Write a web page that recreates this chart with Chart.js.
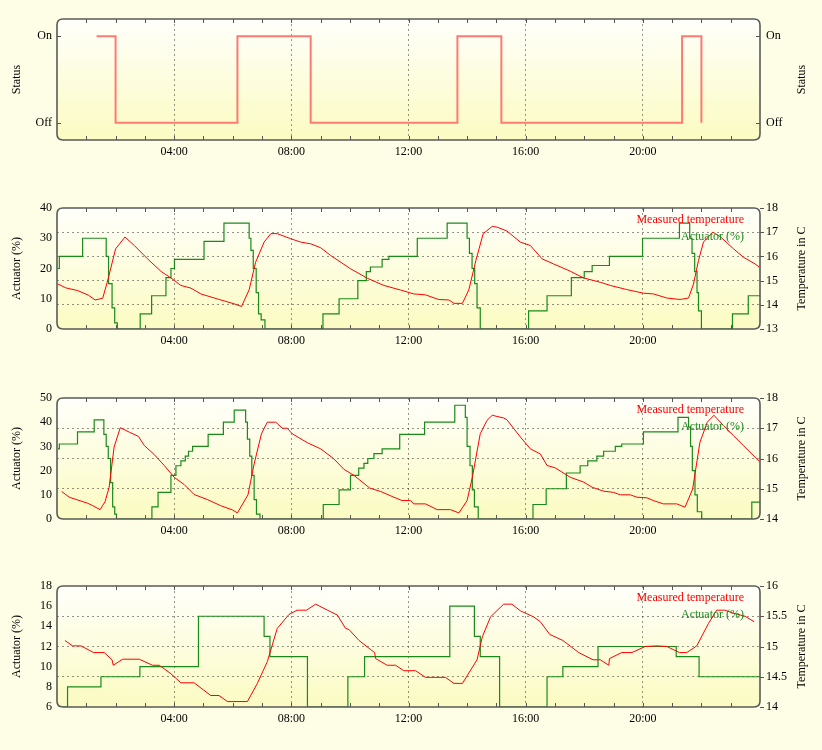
<!DOCTYPE html>
<html>
<head>
<meta charset="utf-8">
<script src="https://cdn.jsdelivr.net/npm/chart.js@4/dist/chart.umd.min.js"></script>
<style>
  body { margin: 0; background: #fefee6; }
  canvas { position: absolute; left: 0; }
</style>
</head>
<body>
<canvas id="c1" width="822" height="190" style="top:0px"></canvas>
<canvas id="c2" width="822" height="190" style="top:189px"></canvas>
<canvas id="c3" width="822" height="190" style="top:379px"></canvas>
<canvas id="c4" width="822" height="190" style="top:567px"></canvas>
<script>
// hours of the day on x
const statusHours = [1.35, 2.0, 6.16, 8.66, 13.67, 15.17, 21.34, 22.0];
const statusValues = [1, 0, 1, 0, 1, 0, 1, 0];
const statusTicks = [0, 1];
const statusLabels = ["Off", "On"];

const temp2Hours = [0.03, 0.3, 0.7, 1.07, 1.3, 1.56, 1.73, 2.0, 2.32, 2.64, 3.09, 3.55, 3.89, 4.23, 4.57, 4.91, 5.48, 6.05, 6.3, 6.56, 6.78, 7.07, 7.3, 7.52, 7.98, 8.32, 8.66, 9.0, 9.34, 10.02, 10.59, 11.16, 11.73, 12.18, 12.58, 13.03, 13.38, 13.55, 13.84, 14.06, 14.3, 14.55, 14.86, 15.02, 15.36, 15.82, 16.16, 16.56, 16.95, 17.52, 17.98, 18.55, 18.89, 19.45, 20.02, 20.36, 20.82, 21.27, 21.56, 21.73, 21.9, 22.07, 22.39, 22.64, 23.1, 23.43, 23.83, 23.98];
const temp2Values = [14.86, 14.7, 14.59, 14.4, 14.2, 14.27, 15.0, 16.31, 16.8, 16.45, 15.9, 15.38, 15.11, 14.8, 14.69, 14.45, 14.24, 14.04, 13.93, 14.62, 15.76, 16.59, 16.94, 16.94, 16.73, 16.59, 16.52, 16.36, 16.04, 15.49, 15.1, 14.8, 14.61, 14.45, 14.41, 14.22, 14.2, 14.06, 14.06, 14.62, 15.83, 16.94, 17.24, 17.21, 17.05, 16.59, 16.45, 15.9, 15.69, 15.39, 15.11, 14.93, 14.8, 14.63, 14.48, 14.45, 14.28, 14.22, 14.28, 14.86, 15.83, 16.59, 17.0, 16.82, 16.31, 15.97, 15.69, 15.55];
const act2Hours = [0.03, 0.08, 0.875, 1.68, 1.76, 1.88, 1.97, 2.06, 2.84, 3.23, 3.72, 3.89, 4.01, 5.02, 5.7, 6.56, 6.62, 6.7, 6.8, 6.88, 6.97, 7.1, 9.08, 9.63, 10.27, 10.56, 10.7, 11.1, 11.33, 12.3, 13.32, 14.0, 14.08, 14.17, 14.26, 14.34, 14.45, 16.1, 16.73, 17.56, 18.0, 18.27, 18.86, 19.99, 21.25, 21.6, 21.68, 21.77, 21.85, 21.9, 22.0, 23.06, 23.6, 24];
const act2Values = [20, 24, 30, 24, 15, 7, 2, 0, 5, 11, 17, 20, 23, 29, 35, 30, 26, 20, 12, 5, 3, 0, 5, 10, 16, 19, 20.5, 23, 24, 30, 35, 30, 25, 20, 15, 7, 0, 6, 11, 17, 19, 21, 24, 30, 35, 30, 25, 19, 12, 6, 0, 5, 11, 11];

const temp3Hours = [0.16, 0.42, 1.05, 1.22, 1.47, 1.64, 1.78, 1.95, 2.16, 2.47, 2.78, 2.98, 3.32, 3.66, 4.0, 4.34, 4.68, 5.14, 5.59, 5.99, 6.16, 6.52, 6.73, 6.98, 7.18, 7.47, 7.69, 7.86, 8.03, 8.55, 9.0, 9.45, 9.8, 10.14, 10.68, 11.05, 11.5, 11.78, 12.07, 12.18, 12.58, 12.98, 13.43, 13.72, 14.0, 14.18, 14.45, 14.68, 14.86, 15.02, 15.25, 15.36, 15.82, 16.16, 16.5, 16.73, 17.01, 17.52, 17.98, 18.27, 18.66, 19.0, 19.23, 19.57, 19.8, 20.14, 20.36, 20.7, 21.16, 21.44, 21.7, 21.95, 22.2, 22.43, 22.75, 23.09, 23.43, 23.98];
const temp3Values = [14.91, 14.72, 14.52, 14.44, 14.31, 14.57, 15.05, 16.38, 17.02, 16.87, 16.73, 16.43, 16.13, 15.77, 15.38, 15.14, 14.81, 14.64, 14.44, 14.3, 14.2, 14.8, 15.82, 16.82, 17.2, 17.2, 17.0, 17.0, 16.82, 16.52, 16.32, 15.99, 15.64, 15.44, 15.02, 14.91, 14.72, 14.61, 14.61, 14.5, 14.5, 14.31, 14.31, 14.2, 14.61, 15.38, 16.82, 17.26, 17.43, 17.39, 17.34, 17.28, 16.71, 16.32, 16.15, 15.77, 15.69, 15.38, 15.22, 15.05, 14.92, 14.88, 14.8, 14.8, 14.72, 14.7, 14.61, 14.5, 14.5, 14.39, 14.99, 16.54, 17.2, 17.43, 17.09, 16.76, 16.43, 15.9];
const act3Hours = [0.03, 0.08, 0.7, 1.27, 1.6, 1.68, 1.75, 1.83, 1.9, 1.97, 2.03, 3.24, 3.45, 3.89, 4.06, 4.23, 4.38, 4.49, 4.63, 5.16, 5.68, 6.05, 6.44, 6.5, 6.58, 6.65, 6.73, 6.81, 6.93, 9.09, 9.63, 10.02, 10.3, 10.48, 10.61, 10.82, 11.1, 11.7, 12.55, 13.58, 13.94, 14.0, 14.1, 14.18, 14.25, 14.38, 16.25, 16.7, 17.39, 17.86, 18.12, 18.43, 18.66, 19.06, 19.28, 20.02, 21.2, 21.56, 21.63, 21.69, 21.78, 21.86, 22.01, 23.72, 24];
const act3Values = [29, 31, 36, 41, 35, 30, 25, 15, 5, 2, 0, 5, 11, 18, 22, 24, 26, 28, 30, 35, 40, 45, 40, 33, 26, 18, 8, 2, 0, 6, 12, 18, 21, 23, 25, 27, 29, 35, 40, 47, 42, 30, 22, 12, 5, 0, 6, 12.5, 19, 22, 24, 26, 28, 30, 31, 36, 42, 38, 30, 20, 10, 3, 0, 7, 7];

const temp4Hours = [0.27, 0.53, 0.82, 1.25, 1.61, 1.88, 1.92, 2.24, 2.81, 3.26, 3.49, 3.89, 4.23, 4.68, 5.25, 5.53, 5.82, 6.5, 6.84, 7.18, 7.52, 7.92, 8.2, 8.52, 8.83, 9.28, 9.57, 9.85, 9.97, 10.31, 10.84, 10.88, 11.27, 11.56, 11.84, 12.24, 12.58, 13.26, 13.55, 13.84, 14.34, 14.52, 14.8, 15.25, 15.53, 15.82, 16.27, 16.5, 16.82, 17.27, 17.81, 18.3, 18.55, 18.84, 18.86, 19.28, 19.63, 20.08, 20.48, 20.82, 21.25, 21.5, 21.84, 22.24, 22.52, 22.8, 23.09, 23.49, 23.8];
const temp4Values = [15.1, 15.01, 15.01, 14.9, 14.9, 14.78, 14.69, 14.79, 14.79, 14.69, 14.69, 14.55, 14.4, 14.4, 14.19, 14.19, 14.09, 14.09, 14.39, 14.75, 15.3, 15.53, 15.6, 15.6, 15.7, 15.59, 15.52, 15.3, 15.28, 15.1, 14.9, 14.8, 14.69, 14.69, 14.6, 14.6, 14.49, 14.49, 14.39, 14.39, 14.78, 15.16, 15.49, 15.7, 15.7, 15.59, 15.49, 15.41, 15.2, 15.1, 14.9, 14.78, 14.78, 14.69, 14.8, 14.9, 14.9, 15.0, 15.01, 15.0, 14.9, 14.9, 15.01, 15.38, 15.6, 15.6, 15.55, 15.5, 15.41];
const act4Hours = [0.03, 0.36, 1.5, 2.83, 4.83, 7.07, 7.27, 8.55, 9.93, 10.5, 13.41, 14.25, 14.45, 15.11, 16.73, 17.27, 18.47, 21.14, 21.92, 24];
const act4Values = [6, 8, 9, 10, 15, 13, 11, 6, 9, 11, 16, 13, 11, 6, 9, 10, 12, 11, 9, 9];

const SERIF = "'Liberation Serif', 'DejaVu Serif', serif";
const GRID = "rgba(0, 0, 0, 0.42)";
const RED = "#ff0000";
const GREEN = "#1a8a1a";

function zip(xs, ys) {
	return xs.map((x, i) => ({ x: x, y: ys[i] }));
}

function roundRect(ctx, a, r) {
	const { left, top, right, bottom } = a;
	ctx.beginPath();
	ctx.moveTo(left + r, top);
	ctx.lineTo(right - r, top);
	ctx.quadraticCurveTo(right, top, right, top + r);
	ctx.lineTo(right, bottom - r);
	ctx.quadraticCurveTo(right, bottom, right - r, bottom);
	ctx.lineTo(left + r, bottom);
	ctx.quadraticCurveTo(left, bottom, left, bottom - r);
	ctx.lineTo(left, top + r);
	ctx.quadraticCurveTo(left, top, left + r, top);
	ctx.closePath();
}

// gnuplot-ish frame: gradient fill, rounded border, inward ticks, text legend
const framePlugin = {
	id: "frame",
	beforeDraw(chart) {
		const { ctx, chartArea: a } = chart;
		const g = ctx.createLinearGradient(0, a.top, 0, a.bottom);
		g.addColorStop(0, "#fffffb");
		g.addColorStop(1, "#fbfbc2");
		ctx.save();
		roundRect(ctx, a, 6);
		ctx.fillStyle = g;
		ctx.fill();
		ctx.restore();
	},
	afterDraw(chart, args, opts) {
		const { ctx, chartArea: a, scales } = chart;
		ctx.save();
		ctx.strokeStyle = "#555";
		ctx.lineWidth = 1;
		ctx.beginPath();
		for (const t of scales.x.ticks) {
			if (t.value <= 0 || t.value >= 24) continue;
			const px = Math.round(scales.x.getPixelForValue(t.value)) + 0.5;
			ctx.moveTo(px, a.top);
			ctx.lineTo(px, a.top + 4);
			ctx.moveTo(px, a.bottom);
			ctx.lineTo(px, a.bottom - 4);
		}
		if (opts.statusTicks) {
			for (const t of scales.y.ticks) {
				const py = Math.round(scales.y.getPixelForValue(t.value)) + 0.5;
				ctx.moveTo(a.left, py);
				ctx.lineTo(a.left + 4, py);
				ctx.moveTo(a.right, py);
				ctx.lineTo(a.right - 4, py);
			}
		} else {
			for (const t of scales.y2.ticks) {
				const py = Math.round(scales.y2.getPixelForValue(t.value)) + 0.5;
				ctx.moveTo(a.right, py);
				ctx.lineTo(a.right + 4, py);
			}
		}
		ctx.stroke();

		roundRect(ctx, a, 6);
		ctx.strokeStyle = "#5a5a5a";
		ctx.lineWidth = 1.6;
		ctx.stroke();

		ctx.font = "12px " + SERIF;
		if (opts.legend) {
			ctx.textAlign = "right";
			ctx.textBaseline = "middle";
			chart.data.datasets.forEach((ds, i) => {
				ctx.fillStyle = ds.borderColor;
				ctx.fillText(ds.label, a.right - 16, a.top + 12 + i * 16.5);
			});
		}

		ctx.fillStyle = "#000";
		ctx.textAlign = "center";
		ctx.textBaseline = "middle";
		ctx.translate(802, (a.top + a.bottom) / 2);
		ctx.rotate(-Math.PI / 2);
		ctx.fillText(opts.rightTitle, 0, 0);
		ctx.restore();
	},
};

function hourLabel(v) {
	if (v % 4 !== 0 || v <= 0 || v >= 24) return "";
	return String(v).padStart(2, "0") + ":00";
}

function xScale() {
	return {
		type: "linear",
		min: 0,
		max: 24,
		afterFit(s) { s.height = 50; },
		ticks: {
			stepSize: 1,
			autoSkip: false,
			maxRotation: 0,
			padding: 5,
			color: "#000",
			font: { family: SERIF, size: 12 },
			callback: hourLabel,
		},
		grid: {
			drawTicks: false,
			lineWidth: 1,
			color: (c) => (c.tick && c.tick.value % 4 === 0 && c.tick.value > 0 && c.tick.value < 24 ? GRID : "transparent"),
		},
		border: { display: false, dash: [2, 3] },
	};
}

function yScale(pos, min, max, step, title, withGrid) {
	return {
		position: pos,
		min: min,
		max: max,
		afterFit(s) { s.width = pos === "left" ? 57 : 62; },
		ticks: {
			stepSize: step,
			padding: pos === "left" ? 5 : 6,
			color: "#000",
			font: { family: SERIF, size: 12 },
			callback: (v) => String(Math.round(v * 10) / 10),
		},
		title: {
			display: pos === "left",
			text: title,
			color: "#000",
			font: { family: SERIF, size: 12 },
			padding: { top: 10, bottom: 0 },
		},
		grid: {
			display: withGrid,
			drawTicks: false,
			lineWidth: 1,
			color: (c) => (c.tick && c.tick.value > min && c.tick.value < max ? GRID : "transparent"),
		},
		border: { display: false, dash: [2, 3] },
	};
}

function statusScale(pos) {
	const s = yScale(pos, -0.2, 1.2, 1, "Status", false);
	s.afterBuildTicks = (scale) => {
		scale.ticks = statusTicks.map((v) => ({ value: v }));
	};
	s.ticks.callback = (v) => statusLabels[v];
	return s;
}

new Chart(document.getElementById("c1"), {
	type: "line",
	data: {
		datasets: [
			{
				label: "Status",
				data: zip(statusHours, statusValues),
				stepped: "before",
				borderColor: "#ff7a72",
				borderWidth: 2,
				pointRadius: 0,
				yAxisID: "y",
			},
		],
	},
	options: {
		responsive: false,
		animation: false,
		layout: { padding: { top: 19, left: 0, right: 0, bottom: 0 } },
		scales: { x: xScale(), y: statusScale("left"), y2: statusScale("right") },
		plugins: {
			legend: { display: false },
			tooltip: { enabled: false },
			frame: { rightTitle: "Status", statusTicks: true, legend: false },
		},
	},
	plugins: [framePlugin],
});

function panel(id, tempHours, tempValues, actHours, actValues, actMin, actMax, actStep, tMin, tMax, tStep) {
	new Chart(document.getElementById(id), {
		type: "line",
		data: {
			datasets: [
				{
					label: "Measured temperature",
					data: zip(tempHours, tempValues),
					borderColor: RED,
					borderWidth: 1,
					pointRadius: 0,
					tension: 0,
					yAxisID: "y2",
				},
				{
					label: "Actuator (%)",
					data: zip(actHours, actValues),
					stepped: "before",
					borderColor: GREEN,
					borderWidth: 1.2,
					pointRadius: 0,
					yAxisID: "y",
				},
			],
		},
		options: {
			responsive: false,
			animation: false,
			layout: { padding: { top: 19, left: 0, right: 0, bottom: 0 } },
			scales: {
				x: xScale(),
				y: yScale("left", actMin, actMax, actStep, "Actuator (%)", false),
				y2: yScale("right", tMin, tMax, tStep, "Temperature in C", true),
			},
			plugins: {
				legend: { display: false },
				tooltip: { enabled: false },
				frame: { rightTitle: "Temperature in C", statusTicks: false, legend: true },
			},
		},
		plugins: [framePlugin],
	});
}

panel("c2", temp2Hours, temp2Values, act2Hours, act2Values, 0, 40, 10, 13, 18, 1);
panel("c3", temp3Hours, temp3Values, act3Hours, act3Values, 0, 50, 10, 14, 18, 1);
panel("c4", temp4Hours, temp4Values, act4Hours, act4Values, 6, 18, 2, 14, 16, 0.5);
</script>
</body>
</html>
